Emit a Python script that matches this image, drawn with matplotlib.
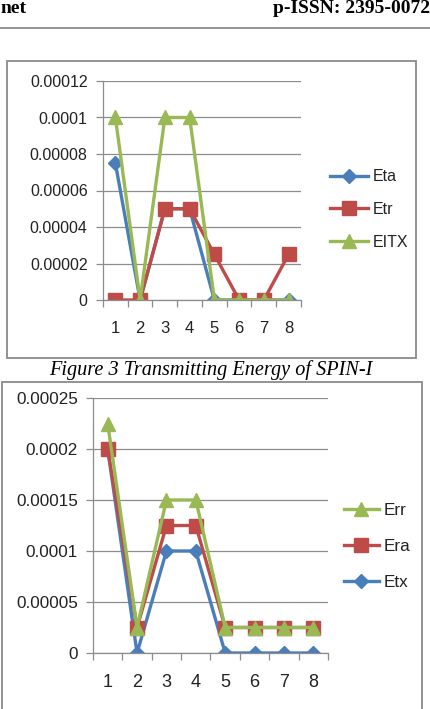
import matplotlib
matplotlib.use("Agg")
import matplotlib.pyplot as plt
from matplotlib.patches import Rectangle
from matplotlib.lines import Line2D

W, H = 431, 709

# chart 1 data
nodes = [1, 2, 3, 4, 5, 6, 7, 8]
eta = [0.000075, 0, 0.00005, 0.00005, 0, 0, 0, 0]
etr = [0, 0, 0.00005, 0.00005, 0.000025, 0, 0, 0.000025]
eitx = [0.0001, 0, 0.0001, 0.0001, 0, 0, 0, 0]
ticks1 = [0, 0.00002, 0.00004, 0.00006, 0.00008, 0.0001, 0.00012]
labels1 = ["0", "0.00002", "0.00004", "0.00006", "0.00008", "0.0001", "0.00012"]

# chart 2 data
etx = [0.0002, 0, 0.0001, 0.0001, 0, 0, 0, 0]
era = [0.0002, 0.000025, 0.000125, 0.000125, 0.000025, 0.000025, 0.000025, 0.000025]
err = [0.000225, 0.000025, 0.00015, 0.00015, 0.000025, 0.000025, 0.000025, 0.000025]
ticks2 = [0, 0.00005, 0.0001, 0.00015, 0.0002, 0.00025]
labels2 = ["0", "0.00005", "0.0001", "0.00015", "0.0002", "0.00025"]

BLUE = "#4a7ebb"
RED = "#be4b48"
GREEN = "#98b954"
GRID = "#8c8c8c"
FONT = "Liberation Sans"
TEXT = "#222222"


def fx(x):
    return x / W


def fy(y):
    return 1 - y / H


def make_axes(fig, left, top, right, bottom):
    ax = fig.add_axes([fx(left), fy(bottom), fx(right) - fx(left), fy(top) - fy(bottom)])
    ax.set_facecolor("none")
    for side in ("top", "right"):
        ax.spines[side].set_visible(False)
    for side in ("left", "bottom"):
        ax.spines[side].set_color(GRID)
        ax.spines[side].set_linewidth(0.9)
    ax.set_xlim(0.5, 8.5)
    ax.set_xticks([i + 0.5 for i in range(0, 9)], minor=False)
    ax.set_xticklabels([])
    ax.set_xticks(nodes, minor=True)
    ax.set_xticklabels([str(n) for n in nodes], minor=True, fontfamily=FONT)
    ax.tick_params(axis="x", which="major", length=5, color=GRID, width=0.9)
    ax.tick_params(axis="x", which="minor", length=0, pad=15, labelcolor=TEXT)
    ax.tick_params(axis="y", length=5, color=GRID, width=0.9, pad=6, labelcolor=TEXT)
    ax.yaxis.grid(True, color=GRID, linewidth=0.9)
    ax.set_axisbelow(True)
    return ax


fig = plt.figure(figsize=(W / 100, H / 100), dpi=100)

# page header
fig.text(fx(1), fy(13), "net", fontfamily="Liberation Serif", fontweight="bold",
         fontsize=14, va="baseline", ha="left")
fig.text(fx(430), fy(13), "p-ISSN: 2395-0072", fontfamily="Liberation Serif",
         fontweight="bold", fontsize=14, va="baseline", ha="right")
fig.add_artist(Line2D([0, 1], [fy(28), fy(28)], color="#808080", linewidth=1.2))

# boxes
fig.add_artist(Rectangle((fx(7), fy(358)), fx(416) - fx(7), fy(61) - fy(358),
                         fill=False, edgecolor="#8a8a8a", linewidth=1.3))
fig.add_artist(Rectangle((fx(2), fy(712)), fx(422) - fx(2), fy(382) - fy(712),
                         fill=False, edgecolor="#8a8a8a", linewidth=1.3))

# chart 1
ax1 = make_axes(fig, 103, 81, 301, 300)
ax1.plot(nodes, eta, color=BLUE, lw=2.4, marker="D", ms=7, label="Eta")
ax1.plot(nodes, etr, color=RED, lw=2.4, marker="s", ms=9.5, label="Etr")
ax1.plot(nodes, eitx, color=GREEN, lw=2.4, marker="^", ms=10, label="EITX")
ax1.set_ylim(0, 0.00012)
ax1.set_yticks(ticks1)
ax1.set_yticklabels(labels1, fontfamily=FONT)
ax1.tick_params(labelsize=11.5)
ax1.tick_params(axis="x", which="minor", labelsize=12)
leg1 = ax1.legend(loc="center left", bbox_to_anchor=(fx(322), fy(209.5)),
                  bbox_transform=fig.transFigure, frameon=False,
                  prop={"family": FONT, "size": 11.5}, handlelength=2.4,
                  handletextpad=0.25, labelspacing=1.1, borderpad=0)
for t in leg1.get_texts():
    t.set_color(TEXT)

fig.text(fx(211), fy(370), "Figure 3 Transmitting Energy of SPIN-I",
         fontfamily="Liberation Serif", fontstyle="italic", fontsize=14.6,
         ha="center", va="center")

# chart 2
ax2 = make_axes(fig, 93, 398, 328, 653)
l_etx, = ax2.plot(nodes, etx, color=BLUE, lw=2.4, marker="D", ms=7, label="Etx")
l_era, = ax2.plot(nodes, era, color=RED, lw=2.4, marker="s", ms=9.5, label="Era")
l_err, = ax2.plot(nodes, err, color=GREEN, lw=2.4, marker="^", ms=10, label="Err")
ax2.set_ylim(0, 0.00025)
ax2.set_yticks(ticks2)
ax2.set_yticklabels(labels2, fontfamily=FONT)
ax2.tick_params(labelsize=12.3)
ax2.tick_params(axis="x", which="minor", labelsize=13)
leg2 = ax2.legend(handles=[l_err, l_era, l_etx], loc="center left",
                  bbox_to_anchor=(fx(335), fy(546.5)), bbox_transform=fig.transFigure,
                  frameon=False, prop={"family": FONT, "size": 12.3}, handlelength=2.1,
                  handletextpad=0.25, labelspacing=1.25, borderpad=0)
for t in leg2.get_texts():
    t.set_color(TEXT)

fig.savefig("out.png", dpi=100)
